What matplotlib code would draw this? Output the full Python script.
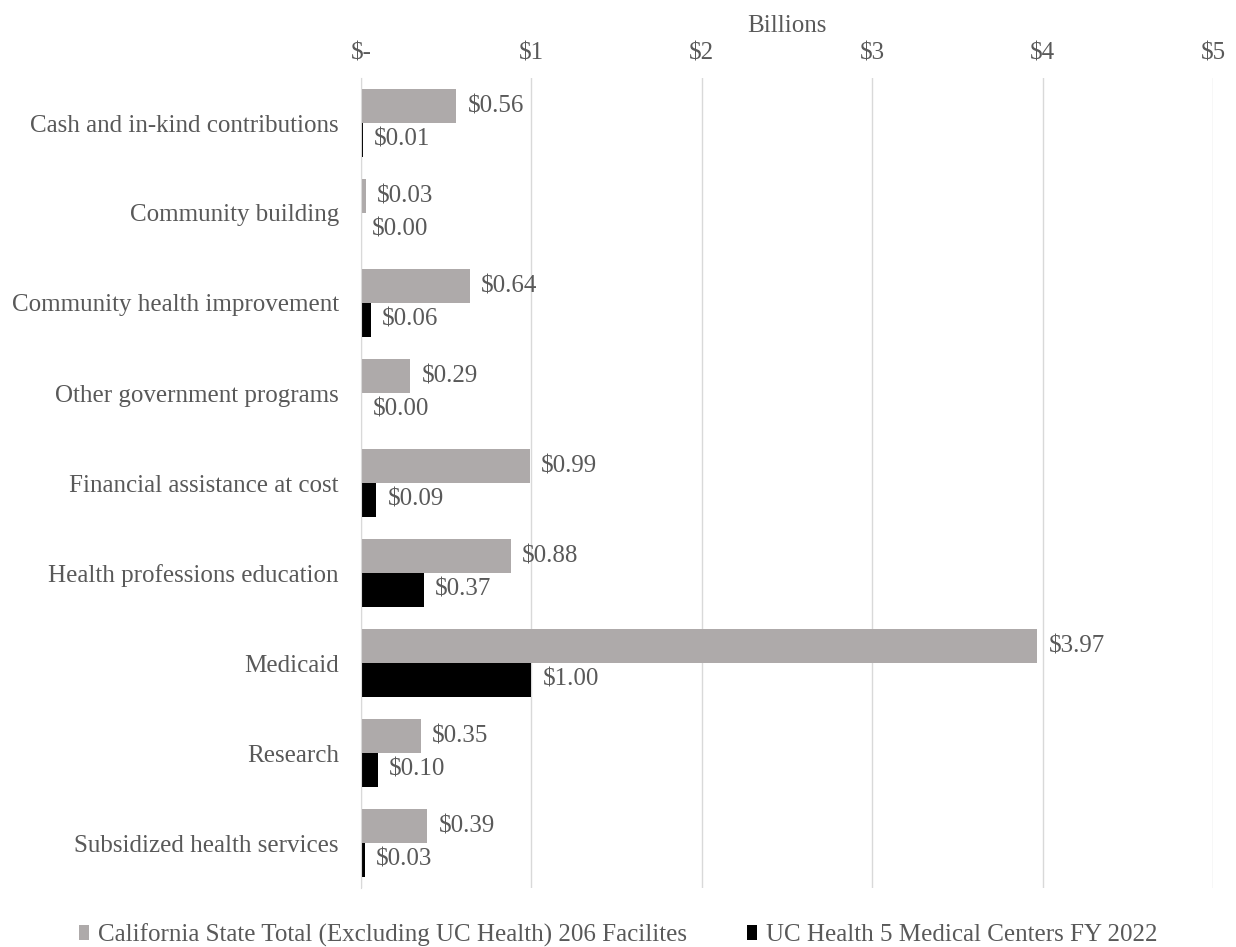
import matplotlib.pyplot as plt
import numpy as np

plt.rcParams["font.family"] = ["Liberation Serif", "DejaVu Serif"]

categories = [
    "Cash and in-kind contributions",
    "Community building",
    "Community health improvement",
    "Other government programs",
    "Financial assistance at cost",
    "Health professions education",
    "Medicaid",
    "Research",
    "Subsidized health services",
]
state_total = [0.56, 0.03, 0.64, 0.29, 0.99, 0.88, 3.97, 0.35, 0.39]
uc_health = [0.01, 0.0, 0.06, 0.004, 0.09, 0.37, 1.00, 0.10, 0.025]
series_names = [
    "California State Total (Excluding UC Health) 206 Facilites",
    "UC Health 5 Medical Centers FY 2022",
]
xticks = [0, 1, 2, 3, 4, 5]
xtick_labels = ["$-", "$1", "$2", "$3", "$4", "$5"]

text_col = "#595959"
grid_col = "#D9D9D9"
fs = 18

fig = plt.figure(figsize=(12.36, 9.47), dpi=100)
ax = fig.add_axes([361 / 1236, 1 - 888 / 947, (1213 - 361) / 1236, (888 - 78) / 947])

y = np.arange(len(categories))
h = 0.375
b1 = ax.barh(y - h / 2, state_total, height=h, color="#AEAAAA", label=series_names[0], zorder=2)
b2 = ax.barh(y + h / 2, uc_health, height=h, color="black", label=series_names[1], zorder=2)

# value labels just right of each bar
for bars, vals in ((b1, state_total), (b2, uc_health)):
    for bar, v in zip(bars, vals):
        ax.annotate(f"${v:.2f}", (bar.get_width(), bar.get_y() + bar.get_height() / 2),
                    xytext=(8, 0), textcoords="offset points", va="center", ha="left",
                    fontsize=fs, color=text_col)

ax.set_xlim(0, 5)
ax.set_ylim(len(categories) - 0.5, -0.5)
ax.set_yticks(y)
ax.set_yticklabels(categories, fontsize=fs, color=text_col)
ax.set_xticks(xticks)
ax.set_xticklabels(xtick_labels, fontsize=fs, color=text_col)
ax.xaxis.tick_top()
ax.xaxis.set_label_position("top")
ax.set_xlabel("Billions", fontsize=fs, color=text_col, labelpad=7)
ax.tick_params(axis="x", length=0, pad=10)
ax.tick_params(axis="y", length=0, pad=16)
ax.grid(axis="x", color=grid_col, linewidth=1, zorder=0)
for side in ("top", "right", "bottom"):
    ax.spines[side].set_visible(False)
ax.spines["left"].set_color(grid_col)
ax.spines["left"].set_zorder(3)

fig.legend(handles=[b1, b2], loc="center", bbox_to_anchor=(0.5, 1 - 935 / 947), ncol=2,
           frameon=False, fontsize=fs, labelcolor=text_col, handlelength=0.4,
           handleheight=0.6, handletextpad=0.35, columnspacing=2.4)

fig.savefig("out.png", dpi=100)
